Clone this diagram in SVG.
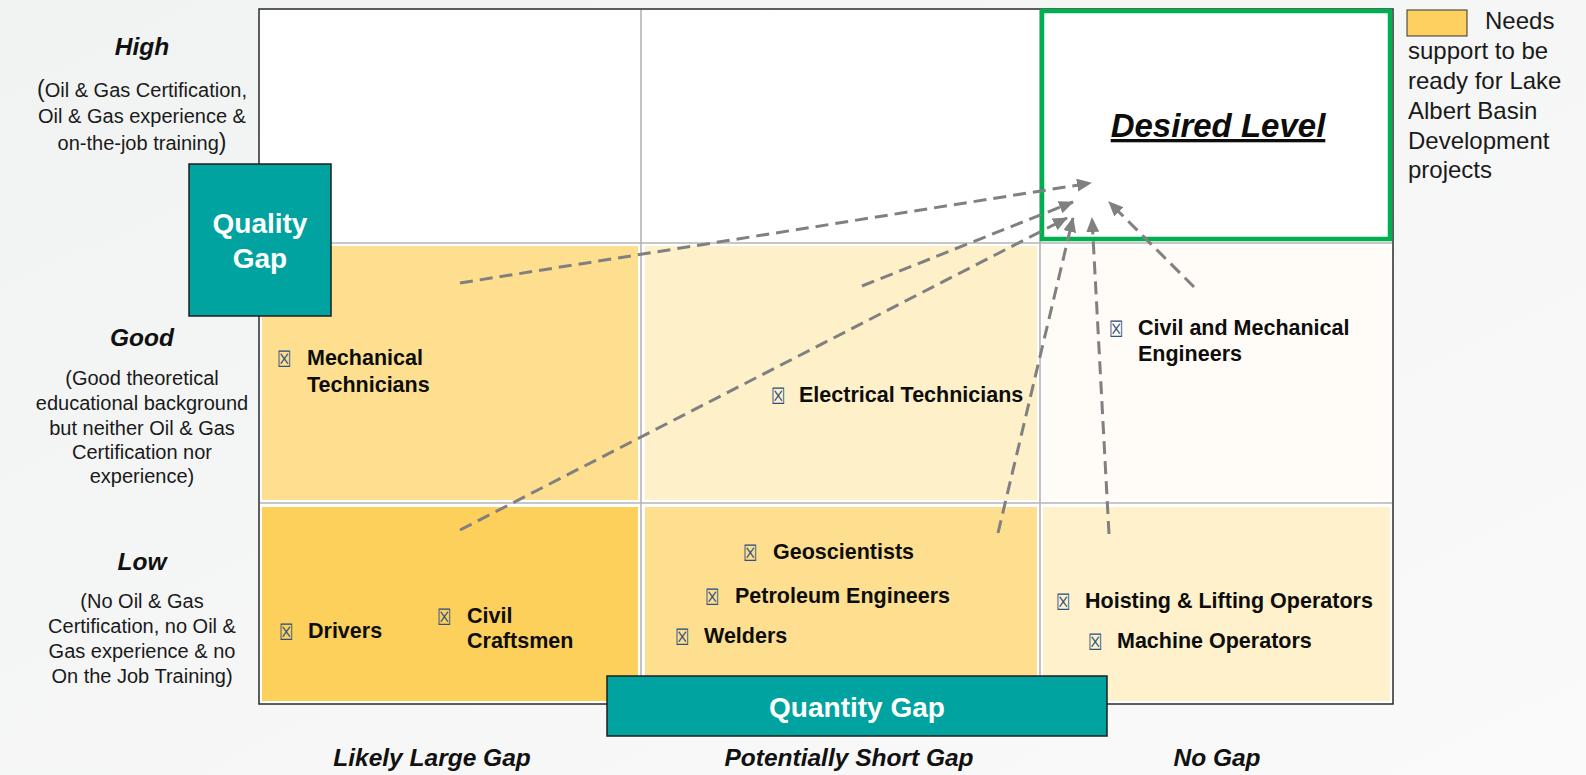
<svg xmlns="http://www.w3.org/2000/svg" width="1586" height="775" viewBox="0 0 1586 775">
<style>
text{font-family:"Liberation Sans",Arial,sans-serif;}
.axis{font-size:24.5px;font-weight:bold;font-style:italic;fill:#111;text-anchor:middle;}
.desc{font-size:20px;fill:#1a1a1a;text-anchor:middle;}
.item{font-size:21.5px;font-weight:bold;fill:#0d0d0d;}
.bul{font-family:"DejaVu Sans",sans-serif;font-size:19px;fill:#2E5283;}
.gap{font-size:28px;font-weight:bold;fill:#fff;text-anchor:middle;}
.leg{font-size:24px;fill:#1a1a1a;}
.grid{stroke:#B4B4B4;stroke-width:1.6;}
.arr{fill:none;stroke:#808080;stroke-width:3;stroke-dasharray:13 7;marker-end:url(#ah);}
</style>
<defs>
<linearGradient id="bg" x1="0" y1="0" x2="1" y2="1">
<stop offset="0" stop-color="#F1F2F2"/>
<stop offset="1" stop-color="#FAFAFA"/>
</linearGradient>
<marker id="ah" viewBox="0 0 15 13" refX="14" refY="6.5" markerWidth="15" markerHeight="13" markerUnits="userSpaceOnUse" orient="auto">
<path d="M0,0 L15,6.5 L0,13 z" fill="#808080"/>
</marker>
</defs>
<rect x="0" y="0" width="1586" height="775" fill="url(#bg)"/>

<g id="matrix">
<rect x="259" y="9" width="1134" height="695" fill="#fff" stroke="#2a2a2a" stroke-width="1.5"/>
<rect x="262" y="246" width="376" height="254" fill="#FDDF8F"/>
<rect x="645" y="246" width="392" height="254" fill="#FEF0C9"/>
<rect x="1043" y="246" width="347" height="254" fill="#FFFBF6"/>
<rect x="262" y="507" width="376" height="194" fill="#FCD05B"/>
<rect x="645" y="507" width="392" height="194" fill="#FDDF8F"/>
<rect x="1043" y="507" width="347" height="194" fill="#FFF1CB"/>
<line class="grid" x1="641" y1="10" x2="641" y2="703"/>
<line class="grid" x1="1040" y1="10" x2="1040" y2="703"/>
<line class="grid" x1="260" y1="243" x2="1392" y2="243"/>
<line class="grid" x1="260" y1="503" x2="1392" y2="503"/>
</g>

<g id="desired-level">
<rect x="1042" y="11" width="348" height="228" fill="none" stroke="#00B050" stroke-width="4.5"/>
<text x="1218" y="137" text-anchor="middle" font-size="33" font-weight="bold" font-style="italic" fill="#0d0d0d" text-decoration="underline">Desired Level</text>
</g>

<g id="row-labels">
<text class="axis" x="142" y="55">High</text>
<text class="desc" x="142" y="97"><tspan font-size="23">(</tspan>Oil &amp; Gas Certification,</text>
<text class="desc" x="142" y="123">Oil &amp; Gas experience &amp;</text>
<text class="desc" x="142" y="150">on-the-job training<tspan font-size="23">)</tspan></text>
<text class="axis" x="142" y="346">Good</text>
<text class="desc" x="142" y="385">(Good theoretical</text>
<text class="desc" x="142" y="410">educational background</text>
<text class="desc" x="142" y="435">but neither Oil &amp; Gas</text>
<text class="desc" x="142" y="459">Certification nor</text>
<text class="desc" x="142" y="483">experience)</text>
<text class="axis" x="142" y="570">Low</text>
<text class="desc" x="142" y="608">(No Oil &amp; Gas</text>
<text class="desc" x="142" y="633">Certification, no Oil &amp;</text>
<text class="desc" x="142" y="658">Gas experience &amp; no</text>
<text class="desc" x="142" y="683">On the Job Training)</text>
</g>

<g id="col-labels">
<text class="axis" x="432" y="766">Likely Large Gap</text>
<text class="axis" x="849" y="766">Potentially Short Gap</text>
<text class="axis" x="1217" y="766">No Gap</text>
</g>

<g id="connectors">
<line class="arr" x1="460" y1="283" x2="1091" y2="183"/>
<line class="arr" x1="862" y1="286" x2="1073" y2="202"/>
<line class="arr" x1="460" y1="530" x2="1067" y2="218"/>
<line class="arr" x1="998" y1="533" x2="1073" y2="218"/>
<line class="arr" x1="1109" y1="534" x2="1092" y2="218"/>
<line class="arr" x1="1194" y1="287" x2="1109" y2="202"/>
</g>

<g id="quality-gap">
<rect x="189" y="164" width="142" height="152" fill="#00A3A0" stroke="#1e1e1e" stroke-width="1.5"/>
<text class="gap" x="260" y="233">Quality</text>
<text class="gap" x="260" y="268">Gap</text>
</g>

<g id="quantity-gap">
<rect x="607" y="676" width="500" height="60" fill="#00A3A0" stroke="#1e1e1e" stroke-width="1.5"/>
<text class="gap" x="857" y="717">Quantity Gap</text>
</g>

<g id="mechanical-technicians">
<text class="bul" transform="translate(277,367) scale(0.85,1.2)">☒</text>
<text class="item" x="307" y="365">Mechanical</text>
<text class="item" x="307" y="392">Technicians</text>
</g>
<g id="electrical-technicians">
<text class="bul" transform="translate(771,404) scale(0.85,1.2)">☒</text>
<text class="item" x="799" y="402">Electrical Technicians</text>
</g>
<g id="civil-mechanical-engineers">
<text class="bul" transform="translate(1109,337) scale(0.85,1.2)">☒</text>
<text class="item" x="1138" y="335">Civil and Mechanical</text>
<text class="item" x="1138" y="361">Engineers</text>
</g>
<g id="drivers">
<text class="bul" transform="translate(279,640) scale(0.85,1.2)">☒</text>
<text class="item" x="308" y="638">Drivers</text>
</g>
<g id="civil-craftsmen">
<text class="bul" transform="translate(437,625) scale(0.85,1.2)">☒</text>
<text class="item" x="467" y="623">Civil</text>
<text class="item" x="467" y="648">Craftsmen</text>
</g>
<g id="geoscientists">
<text class="bul" transform="translate(743,561) scale(0.85,1.2)">☒</text>
<text class="item" x="773" y="559">Geoscientists</text>
</g>
<g id="petroleum-engineers">
<text class="bul" transform="translate(705,605) scale(0.85,1.2)">☒</text>
<text class="item" x="735" y="603">Petroleum Engineers</text>
</g>
<g id="welders">
<text class="bul" transform="translate(675,645) scale(0.85,1.2)">☒</text>
<text class="item" x="704" y="643">Welders</text>
</g>
<g id="hoisting-operators">
<text class="bul" transform="translate(1056,610) scale(0.85,1.2)">☒</text>
<text class="item" x="1085" y="608">Hoisting &amp; Lifting Operators</text>
</g>
<g id="machine-operators">
<text class="bul" transform="translate(1088,650) scale(0.85,1.2)">☒</text>
<text class="item" x="1117" y="648">Machine Operators</text>
</g>

<g id="legend">
<rect x="1407" y="10" width="60" height="26" fill="#FDD05F" stroke="#333" stroke-width="1"/>
<text class="leg" x="1485" y="29">Needs</text>
<text class="leg" x="1408" y="59">support to be</text>
<text class="leg" x="1408" y="89">ready for Lake</text>
<text class="leg" x="1408" y="119">Albert Basin</text>
<text class="leg" x="1408" y="149">Development</text>
<text class="leg" x="1408" y="178">projects</text>
</g>
</svg>
